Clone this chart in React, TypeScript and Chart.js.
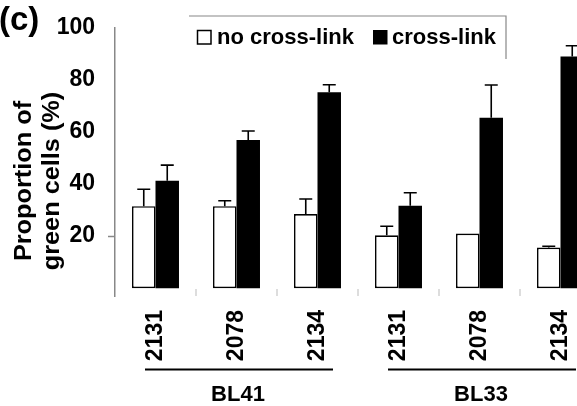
import React, { useEffect, useRef } from "react";
import { Chart, registerables } from "chart.js";

Chart.register(...registerables);

const categories = ["2131", "2078", "2134", "2131", "2078", "2134"];
const groupNames = ["BL41", "BL33"];
const noCrossLink = [31.5, 31.5, 28.5, 20.3, 21.0, 15.6];
const noCrossLinkErr = [6.5, 2.1, 5.8, 3.5, 0, 0.5];
const crossLink = [41.3, 57.0, 75.3, 31.7, 65.5, 89.0];
const crossLinkErr = [6.0, 3.4, 2.9, 5.0, 12.6, 4.2];
const yTicks = [20, 40, 60, 80, 100];
const seriesNames = ["no cross-link", "cross-link"];

const FONT = '"Liberation Sans", Arial, sans-serif';

const errorBarPlugin = {
  id: "errorBars",
  afterDatasetsDraw(chart: any) {
    const ctx = chart.ctx;
    const y = chart.scales.y;
    const errs = [noCrossLinkErr, crossLinkErr];
    chart.data.datasets.forEach((ds: any, di: number) => {
      const meta = chart.getDatasetMeta(di);
      meta.data.forEach((bar: any, i: number) => {
        const e = errs[di][i];
        if (!e) return;
        const v = ds.data[i];
        const top = y.getPixelForValue(v + e);
        const base = y.getPixelForValue(v);
        ctx.save();
        ctx.strokeStyle = "#000";
        ctx.lineWidth = 1.6;
        ctx.beginPath();
        ctx.moveTo(bar.x, base);
        ctx.lineTo(bar.x, top);
        ctx.moveTo(bar.x - 6.5, top);
        ctx.lineTo(bar.x + 6.5, top);
        ctx.stroke();
        ctx.restore();
      });
    });
  },
};

const decorPlugin = {
  id: "decor",
  afterDraw(chart: any) {
    const ctx = chart.ctx;
    const x = chart.scales.x;
    const area = chart.chartArea;
    ctx.save();
    // panel letter
    ctx.fillStyle = "#000";
    ctx.font = `bold 33px ${FONT}`;
    ctx.textAlign = "left";
    ctx.textBaseline = "alphabetic";
    ctx.fillText("(c)", -1, 30);

    // y title (two lines, rotated)
    ctx.font = `bold 23px ${FONT}`;
    ctx.textAlign = "center";
    ctx.textBaseline = "middle";
    const lines = ["Proportion of", "green cells (%)"];
    const xs = [25, 53];
    lines.forEach((t, i) => {
      ctx.save();
      ctx.translate(xs[i], 181);
      ctx.rotate(-Math.PI / 2);
      ctx.scale(1.1, 1);
      ctx.fillText(t, 0, 0);
      ctx.restore();
    });

    // category boundary marks
    ctx.strokeStyle = "#bbb";
    ctx.lineWidth = 1;
    for (let i = 1; i < categories.length; i++) {
      const px = (x.getPixelForValue(i - 1) + x.getPixelForValue(i)) / 2;
      ctx.beginPath();
      ctx.moveTo(px, area.bottom - 7);
      ctx.lineTo(px, area.bottom);
      ctx.stroke();
    }

    // group lines and labels
    ctx.strokeStyle = "#000";
    ctx.lineWidth = 2;
    ctx.font = `bold 22px ${FONT}`;
    groupNames.forEach((g, gi) => {
      const a = x.getPixelForValue(gi * 3);
      const b = x.getPixelForValue(gi * 3 + 2);
      const c = (a + b) / 2 + 1.5;
      ctx.beginPath();
      ctx.moveTo(c - 93, 369.5);
      ctx.lineTo(c + 95, 369.5);
      ctx.stroke();
      ctx.fillText(g, c, 395);
    });

    // legend
    ctx.strokeStyle = "#888";
    ctx.lineWidth = 1.2;
    ctx.beginPath();
    ctx.moveTo(189, 16);
    ctx.lineTo(506, 16);
    ctx.lineTo(506, 59);
    ctx.stroke();
    ctx.fillStyle = "#fff";
    ctx.fillRect(197, 30, 14, 14);
    ctx.strokeStyle = "#000";
    ctx.lineWidth = 1.5;
    ctx.strokeRect(197.5, 30.5, 13.5, 13.5);
    ctx.fillStyle = "#000";
    ctx.fillRect(373, 30, 14.5, 14.5);
    ctx.font = `bold 22px ${FONT}`;
    ctx.textAlign = "left";
    ctx.textBaseline = "middle";
    ctx.fillText(seriesNames[0], 217, 38);
    ctx.fillText(seriesNames[1], 392, 38);
    ctx.restore();
  },
};

export default function App() {
  const ref = useRef<HTMLCanvasElement>(null);
  useEffect(() => {
    if (!ref.current) return;
    Chart.defaults.font.family = FONT;
    const chart = new Chart(ref.current, {
      type: "bar",
      data: {
        labels: categories,
        datasets: [
          {
            label: seriesNames[0],
            data: noCrossLink,
            backgroundColor: "#fff",
            borderColor: "#000",
            borderWidth: 1.6,
            borderSkipped: false,
          },
          {
            label: seriesNames[1],
            data: crossLink,
            backgroundColor: "#000",
            borderColor: "#000",
            borderWidth: 0,
            borderSkipped: false,
          },
        ],
      },
      options: {
        responsive: false,
        animation: false,
        layout: { padding: { left: 0, right: 19, top: 28, bottom: 0 } },
        plugins: { legend: { display: false }, tooltip: { enabled: false } },
        datasets: { bar: { categoryPercentage: 0.58, barPercentage: 1 } },
        scales: {
          x: {
            grid: { display: false },
            border: { display: false },
            ticks: {
              autoSkip: false,
              minRotation: 90,
              maxRotation: 90,
              padding: 6,
              color: "#000",
              font: { size: 23, weight: "bold", family: FONT },
            },
            afterFit: (s: any) => {
              s.height = 110;
            },
          },
          y: {
            min: -3,
            max: 100,
            afterBuildTicks: (s: any) => {
              s.ticks = yTicks.map((v) => ({ value: v }));
            },
            grid: {
              drawOnChartArea: false,
              tickLength: 7,
              tickColor: (c: any) => (c.tick && c.tick.value === 20 ? "#888" : "rgba(0,0,0,0)"),
              tickWidth: 1.5,
            },
            border: { display: true, color: "#888", width: 1.5 },
            ticks: {
              padding: 13,
              color: "#000",
              font: { size: 23, weight: "bold", family: FONT },
            },
            afterFit: (s: any) => {
              s.width = 115;
            },
          },
        },
      },
      plugins: [errorBarPlugin, decorPlugin],
    });
    return () => chart.destroy();
  }, []);
  return (
    <div
      style={{
        position: "fixed",
        left: 0,
        top: 0,
        width: 577,
        height: 406,
        overflow: "hidden",
        background: "#fff",
      }}
    >
      <canvas ref={ref} width={620} height={406} style={{ width: 620, height: 406, display: "block" }} />
    </div>
  );
}
